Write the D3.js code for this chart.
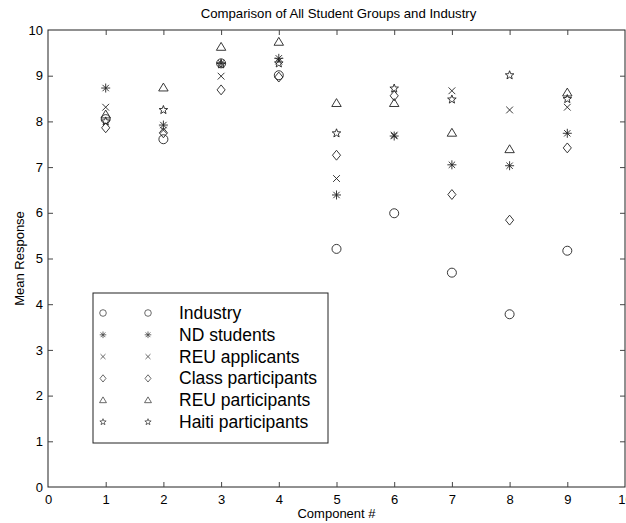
<!DOCTYPE html>
<html>
<head>
<meta charset="utf-8">
<script src="https://cdn.jsdelivr.net/npm/d3@7"></script>
<style>
body { margin: 0; background: #fff; }
text { font-family: Arial, "Liberation Sans", sans-serif; fill: #000; }
</style>
</head>
<body>
<div class="container"></div>
<script>
var components = [1, 2, 3, 4, 5, 6, 7, 8, 9];

var industry        = [8.05, 7.61, 9.27, 9.01, 5.21, 5.99, 4.69, 3.78, 5.17];
var ndStudents      = [8.73, 7.92, 9.27, 9.38, 6.39, 7.68, 7.05, 7.03, 7.74];
var reuApplicants   = [8.31, 7.81, 8.99, 9.32, 6.75, 7.70, 8.67, 8.25, 8.31];
var classPart       = [7.86, 7.75, 8.69, 8.97, 7.26, 8.56, 6.40, 5.84, 7.42];
var reuPart         = [8.15, 8.74, 9.63, 9.74, 8.40, 8.40, 7.75, 7.39, 8.63];
var haitiPart       = [8.00, 8.25, 9.25, 9.27, 7.74, 8.72, 8.48, 9.01, 8.49];

var seriesNames = ["Industry", "ND students", "REU applicants", "Class participants", "REU participants", "Haiti participants"];
var seriesValues = [industry, ndStudents, reuApplicants, classPart, reuPart, haitiPart];

var xTicks = [0, 1, 2, 3, 4, 5, 6, 7, 8, 9, 10];
var yTicks = [0, 1, 2, 3, 4, 5, 6, 7, 8, 9, 10];

const WIDTH = 626;
const HEIGHT = 523;
const LEFT = 48, RIGHT = 625, TOP = 30, BOTTOM = 487;

var translate = function(x, y){
  return "translate(" + x + "," + y + ")";
};

var _xScale = d3.scaleLinear().domain([0, 10]).range([LEFT, RIGHT]);
var _yScale = d3.scaleLinear().domain([0, 10]).range([BOTTOM, TOP]);

// matlab style markers, r = half size
var markerPath = function(kind, r){
  var p = d3.path();
  if (kind == 0) {
    p.moveTo(r, 0); p.arc(0, 0, r, 0, 2 * Math.PI);
  } else if (kind == 1) {
    for (var i = 0; i < 4; i++) {
      var a = i * Math.PI / 4;
      p.moveTo(-r * Math.cos(a), -r * Math.sin(a));
      p.lineTo(r * Math.cos(a), r * Math.sin(a));
    }
  } else if (kind == 2) {
    var q = r * 0.75;
    p.moveTo(-q, -q); p.lineTo(q, q);
    p.moveTo(-q, q); p.lineTo(q, -q);
  } else if (kind == 3) {
    p.moveTo(0, -r * 1.1); p.lineTo(r * 0.9, 0); p.lineTo(0, r * 1.1); p.lineTo(-r * 0.9, 0); p.closePath();
  } else if (kind == 4) {
    p.moveTo(0, -r); p.lineTo(r * 1.05, r * 0.75); p.lineTo(-r * 1.05, r * 0.75); p.closePath();
  } else {
    for (var j = 0; j < 10; j++) {
      var ang = -Math.PI / 2 + j * Math.PI / 5;
      var rr = (j % 2 == 0) ? r : r * 0.42;
      if (j == 0) p.moveTo(rr * Math.cos(ang), rr * Math.sin(ang));
      else p.lineTo(rr * Math.cos(ang), rr * Math.sin(ang));
    }
    p.closePath();
  }
  return p.toString();
};

var generateChart = function(){
  var svg = d3.select('.container').append('svg')
    .attr("width", WIDTH)
    .attr("height", HEIGHT);

  svg.append('rect').attr('width', WIDTH).attr('height', HEIGHT).attr('fill', '#fff');

  // frame
  svg.append('rect')
    .attr('x', LEFT).attr('y', TOP)
    .attr('width', RIGHT - LEFT).attr('height', BOTTOM - TOP)
    .attr('fill', 'none').attr('stroke', '#222').attr('stroke-width', 1);

  var xAxis = d3.axisBottom(_xScale).tickValues(xTicks).tickSizeInner(-5).tickSizeOuter(0).tickPadding(8);
  var yAxis = d3.axisLeft(_yScale).tickValues(yTicks).tickSizeInner(-5).tickSizeOuter(0).tickPadding(5);

  var gx = svg.append('g').attr('transform', translate(0, BOTTOM)).call(xAxis);
  var gy = svg.append('g').attr('transform', translate(LEFT, 0)).call(yAxis);
  // top and right ticks
  var gxt = svg.append('g').attr('transform', translate(0, TOP))
    .call(d3.axisTop(_xScale).tickValues(xTicks.slice(1, -1)).tickSizeInner(-5).tickSizeOuter(0).tickFormat(""));
  var gyr = svg.append('g').attr('transform', translate(RIGHT, 0))
    .call(d3.axisRight(_yScale).tickValues(yTicks.slice(1, -1)).tickSizeInner(-5).tickSizeOuter(0).tickFormat(""));

  [gx, gy, gxt, gyr].forEach(function(g){
    g.select('.domain').remove();
    g.selectAll('line').attr('stroke', '#444');
    g.selectAll('text').attr('font-size', 13).attr('font-family', 'Arial, "Liberation Sans", sans-serif');
  });
  gx.selectAll('.tick line').filter(function(d){ return d == 0 || d == 10; }).remove();
  gy.selectAll('.tick line').filter(function(d){ return d == 0 || d == 10; }).remove();

  // points
  var g = svg.append('g');
  seriesValues.forEach(function(vals, s){
    g.selectAll('.s' + s).data(vals).enter().append('path')
      .attr('class', 's' + s)
      .attr('transform', function(v, i){ return translate(_xScale(components[i]), _yScale(v)); })
      .attr('d', markerPath(s, 4.5))
      .attr('fill', 'none')
      .attr('stroke', '#222')
      .attr('stroke-width', 0.9);
  });

  // legend
  var leg = svg.append('g');
  leg.append('rect')
    .attr('x', 93).attr('y', 293).attr('width', 235).attr('height', 150)
    .attr('fill', '#fff').attr('stroke', '#222').attr('stroke-width', 1);
  seriesNames.forEach(function(name, s){
    var y = 313 + s * 21.8;
    [103, 148].forEach(function(x){
      leg.append('path')
        .attr('transform', translate(x, y))
        .attr('d', markerPath(s, 3.3))
        .attr('fill', 'none').attr('stroke', '#444').attr('stroke-width', 0.8);
    });
    leg.append('text')
      .attr('x', 179).attr('y', y + 6)
      .attr('font-size', 17.5)
      .text(name);
  });

  // titles
  svg.append('text')
    .attr('x', (LEFT + RIGHT) / 2 + 2).attr('y', 18)
    .attr('text-anchor', 'middle').attr('font-size', 13.2)
    .text('Comparison of All Student Groups and Industry');
  svg.append('text')
    .attr('x', (LEFT + RIGHT) / 2).attr('y', 518)
    .attr('text-anchor', 'middle').attr('font-size', 13)
    .text('Component #');
  svg.append('text')
    .attr('transform', translate(24, (TOP + BOTTOM) / 2) + ' rotate(-90)')
    .attr('text-anchor', 'middle').attr('font-size', 13)
    .text('Mean Response');
};

window.onload = generateChart;
</script>
</body>
</html>
